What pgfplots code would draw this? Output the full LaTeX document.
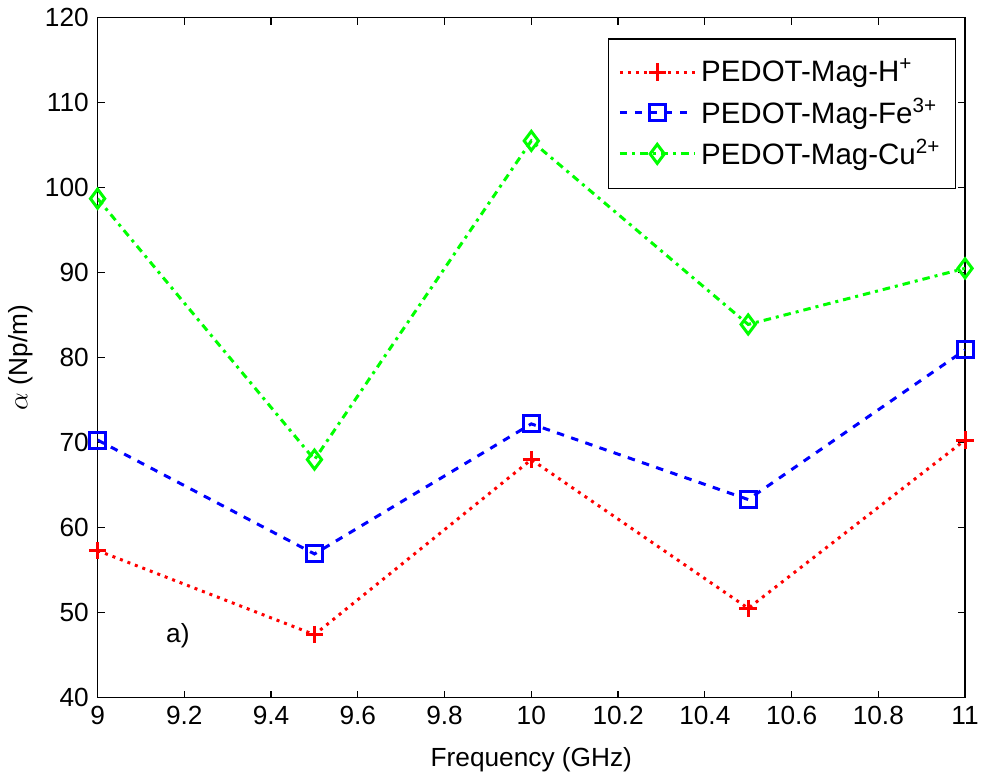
\documentclass[border=0pt]{standalone}
\usepackage{pgfplots}
\pgfplotsset{compat=1.18}
\usepackage{fontspec}
\setmainfont{Liberation Sans}
\begin{document}
\begin{tikzpicture}
\begin{axis}[
  scale only axis,
  width=347pt, height=272pt,
  xmin=9, xmax=11, ymin=40, ymax=120,
  xtick={9,9.2,...,11.01},
  ytick={40,50,...,120},
  xticklabels={9,9.2,9.4,9.6,9.8,10,10.2,10.4,10.6,10.8,11},
  tick align=inside,
  major tick length=2.8pt,
  tick style={black, line width=0.5pt},
  axis line style={line width=0.6pt},
  /pgf/number format/assume math mode=true,
  tick label style={font=\fontsize{10.5}{12}\selectfont},
  label style={font=\fontsize{10.5}{12}\selectfont},
  xlabel={Frequency (GHz)},
  ylabel={$\alpha$ (Np/m)},
  xlabel style={yshift=-2pt},
  ylabel style={yshift=-2pt},
  legend style={at={(0.99,0.97)}, anchor=north east, draw=black, line width=0.6pt,
    font=\fontsize{11.8}{13}\selectfont, row sep=1pt, inner xsep=4pt, inner ysep=6pt},
  legend cell align=left,
  legend image code/.code={
    \draw[#1] (0cm,0cm) -- (1.05cm,0cm);
    \draw[#1, solid] plot coordinates {(0.525cm,0cm)};
  },
]
\addplot[red, line width=1.2pt, dotted, mark=+, mark size=3.5pt, mark options={solid, line width=1.2pt}]
  coordinates {(9,57.3) (9.5,47.4) (10,68.0) (10.5,50.5) (11,70.3)};
\addlegendentry{PEDOT-Mag-H\textsuperscript{+}}
\addplot[blue, line width=1.2pt, dashed, mark=square, mark size=3.2pt, mark options={solid, line width=1.2pt}]
  coordinates {(9,70.3) (9.5,56.9) (10,72.2) (10.5,63.3) (11,80.9)};
\addlegendentry{PEDOT-Mag-Fe\textsuperscript{3+}}
\addplot[green, line width=1.2pt, dash dot, mark=diamond, mark size=3.8pt, mark options={solid, line width=1.2pt}]
  coordinates {(9,98.7) (9.5,68.0) (10,105.5) (10.5,83.9) (11,90.5)};
\addlegendentry{PEDOT-Mag-Cu\textsuperscript{2+}}
\node[font=\fontsize{10.5}{12}\selectfont] at (axis cs:9.185,47.3) {a)};
\end{axis}
\end{tikzpicture}
\end{document}
